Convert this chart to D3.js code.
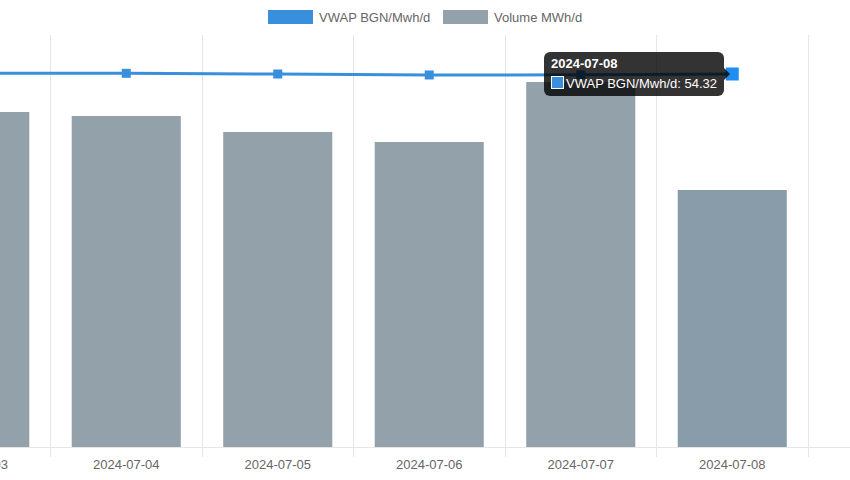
<!DOCTYPE html>
<html>
<head>
<meta charset="utf-8">
<script src="https://cdn.jsdelivr.net/npm/d3@7"></script>
<style>
  html, body { margin: 0; padding: 0; background: #fff; }
  svg { display: block; font-family: "Liberation Sans", Arial, sans-serif; }
</style>
</head>
<body>
<svg id="chart" width="850" height="480"></svg>
<script>
const categories = ["2024-07-03", "2024-07-04", "2024-07-05", "2024-07-06", "2024-07-07", "2024-07-08"];
const vwapValues = [54.42, 54.42, 54.32, 54.18, 54.2, 54.32];
const volumeValues = [65050, 64270, 61170, 59220, 70870, 49900];
const seriesNames = ["VWAP BGN/Mwh/d", "Volume MWh/d"];
const hoverIndex = 5;

const W = 850, H = 480;
const plotTop = 35, plotBottom = 447;
const svg = d3.select("#chart");

const x = d3.scaleBand().domain(categories).range([-101, 808]).paddingInner(0.28).paddingOuter(0.14);
const xGrid = d3.scaleBand().domain(categories).range([-101, 808]);
const yVol = d3.scaleLinear().domain([0, 80000]).range([plotBottom, plotTop]);
const yPrice = d3.scaleLinear().domain([0, 60]).range([plotBottom, plotTop]);

const blue = "#3a8fdc", gray = "#93a1ab", grayHover = "#889ca9";

// grid lines
const gridX = categories.map(c => xGrid(c)).concat([xGrid(categories[categories.length - 1]) + xGrid.bandwidth()]);
svg.append("g").selectAll("line").data(gridX).join("line")
  .attr("x1", d => d).attr("x2", d => d)
  .attr("y1", plotTop).attr("y2", plotBottom + 10)
  .attr("stroke", "#e6e6e6").attr("stroke-width", 1).attr("shape-rendering", "crispEdges");

// axis line
svg.append("line").attr("x1", 0).attr("x2", W).attr("y1", plotBottom + 0.5).attr("y2", plotBottom + 0.5)
  .attr("stroke", "#e6e6e6").attr("stroke-width", 1);

// bars
svg.append("g").selectAll("rect").data(volumeValues).join("rect")
  .attr("x", (d, i) => x(categories[i]))
  .attr("width", x.bandwidth())
  .attr("y", d => yVol(d))
  .attr("height", d => plotBottom - yVol(d))
  .attr("fill", (d, i) => i === hoverIndex ? grayHover : gray);

// x axis labels
const xAxis = d3.axisBottom(xGrid).tickSize(0).tickPadding(0);
const ax = svg.append("g").attr("transform", `translate(0,${plotBottom})`).call(xAxis);
ax.select(".domain").remove();
ax.selectAll("text").attr("y", 22).attr("dy", 0).attr("fill", "#666").style("font-size", "13px")
  .style("font-family", "'Liberation Sans', Arial, sans-serif");

// line
const cx = c => xGrid(c) + xGrid.bandwidth() / 2;
const line = d3.line().x((d, i) => cx(categories[i])).y(d => yPrice(d));
svg.append("path").datum(vwapValues).attr("d", line)
  .attr("fill", "none").attr("stroke", blue).attr("stroke-width", 3);
svg.append("g").selectAll("rect").data(vwapValues).join("rect")
  .attr("x", (d, i) => cx(categories[i]) - (i === hoverIndex ? 6.5 : 4.5))
  .attr("y", (d, i) => yPrice(d) - (i === hoverIndex ? 6.5 : 4.5))
  .attr("width", (d, i) => i === hoverIndex ? 13 : 9)
  .attr("height", (d, i) => i === hoverIndex ? 13 : 9)
  .attr("fill", (d, i) => i === hoverIndex ? "#1e8ff0" : blue);

// legend
const legend = svg.append("g");
const legItems = [
  { name: seriesNames[0], color: blue, x: 268 },
  { name: seriesNames[1], color: gray, x: 443 }
];
legItems.forEach(it => {
  legend.append("rect").attr("x", it.x).attr("y", 10).attr("width", 45).attr("height", 14).attr("fill", it.color);
  legend.append("text").attr("x", it.x + 51).attr("y", 21.5).attr("fill", "#666")
    .style("font-size", "13px").text(it.name);
});

// tooltip
const px = cx(categories[hoverIndex]), py = yPrice(vwapValues[hoverIndex]);
const tt = svg.append("g");
const tx = 544, ty = 52, tw = 180, th = 44;
tt.append("rect").attr("x", tx).attr("y", ty).attr("width", tw).attr("height", th).attr("rx", 6)
  .attr("fill", "rgba(0,0,0,0.8)");
tt.append("path").attr("d", `M${tx + tw},${py - 6} L${tx + tw + 6},${py} L${tx + tw},${py + 6} Z`)
  .attr("fill", "rgba(0,0,0,0.8)");
tt.append("text").attr("x", tx + 7).attr("y", ty + 16).attr("fill", "#fff")
  .style("font-size", "13px").style("font-weight", "bold").text(categories[hoverIndex]);
tt.append("rect").attr("x", tx + 7.5).attr("y", ty + 24.5).attr("width", 12).attr("height", 12)
  .attr("fill", blue).attr("stroke", "#fff").attr("stroke-width", 1);
tt.append("text").attr("x", tx + 22).attr("y", ty + 35.5).attr("fill", "#fff")
  .style("font-size", "13px").text(`${seriesNames[0]}: ${vwapValues[hoverIndex]}`);
</script>
</body>
</html>
